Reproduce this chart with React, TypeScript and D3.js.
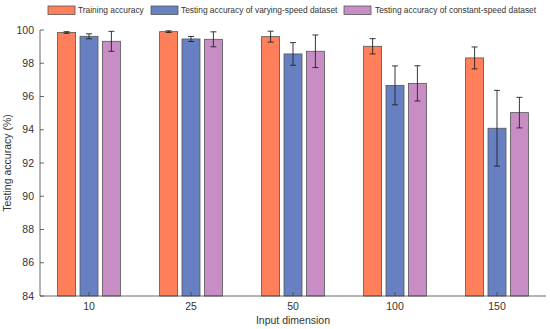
import React from "react";
import * as d3 from "d3";

const categories = ["10", "25", "50", "100", "150"];
const seriesNames = [
  "Training accuracy",
  "Testing accuracy of varying-speed dataset",
  "Testing accuracy of constant-speed dataset",
];
const trainingMean = [99.85, 99.9, 99.6, 99.02, 98.32];
const trainingErr = [0.05, 0.05, 0.33, 0.46, 0.66];
const varyingMean = [99.62, 99.46, 98.56, 96.67, 94.09];
const varyingErr = [0.15, 0.15, 0.68, 1.17, 2.28];
const constantMean = [99.32, 99.44, 98.72, 96.79, 95.03];
const constantErr = [0.6, 0.45, 0.98, 1.06, 0.92];
const yTicks = [84, 86, 88, 90, 92, 94, 96, 98, 100];
const colors = ["#FF7F5B", "#6680C2", "#C98DC6"];

const W = 550, H = 329;
const left = 40, right = 546, top = 30, bottom = 296;

export default function App() {
  const means = [trainingMean, varyingMean, constantMean];
  const errs = [trainingErr, varyingErr, constantErr];
  const x = d3.scaleBand().domain(categories).range([38, 548]).padding(0);
  const y = d3.scaleLinear().domain([84, 100]).range([bottom, top]);
  const barW = 18;
  const step = 22.4;
  const font = "Arial, 'Liberation Sans', sans-serif";

  const legendItems = [
    { box: 48, text: 78 },
    { box: 151, text: 181 },
    { box: 344, text: 375 },
  ];

  return (
    <svg width={W} height={H} style={{ position: "absolute", left: 0, top: 0, background: "#fff" }} fontFamily={font}>
      {categories.map((c, i) => {
        const cx = x(c)! + x.bandwidth() / 2;
        return means.map((m, s) => {
          const bx = cx + (s - 1) * step;
          const v = m[i];
          const e = errs[s][i];
          return (
            <g key={c + s}>
              <rect x={bx - barW / 2} y={y(v)} width={barW} height={bottom - y(v)} fill={colors[s]} stroke="#555" strokeWidth={0.8} />
              <line x1={bx} x2={bx} y1={y(v + e)} y2={y(v - e)} stroke="#222" strokeWidth={0.9} />
              <line x1={bx - 3} x2={bx + 3} y1={y(v + e)} y2={y(v + e)} stroke="#222" strokeWidth={0.9} />
              <line x1={bx - 3} x2={bx + 3} y1={y(v - e)} y2={y(v - e)} stroke="#222" strokeWidth={0.9} />
            </g>
          );
        });
      })}
      <line x1={left} x2={left} y1={top} y2={bottom} stroke="#444" strokeWidth={0.8} />
      <line x1={left} x2={right} y1={bottom} y2={bottom} stroke="#444" strokeWidth={0.8} />
      {yTicks.map((t) => (
        <g key={t}>
          <line x1={left} x2={left + 4} y1={y(t)} y2={y(t)} stroke="#444" strokeWidth={0.8} />
          <text x={left - 6} y={y(t)} dy="0.35em" textAnchor="end" fontSize={10.5} fill="#333">{t}</text>
        </g>
      ))}
      {categories.map((c) => {
        const cx = x(c)! + x.bandwidth() / 2;
        return (
          <g key={c}>
            <line x1={cx} x2={cx} y1={bottom} y2={bottom - 4} stroke="#444" strokeWidth={0.8} />
            <text x={cx} y={310} textAnchor="middle" fontSize={10.5} fill="#333">{c}</text>
          </g>
        );
      })}
      <text x={(left + right) / 2} y={324} textAnchor="middle" fontSize={10.5} fill="#333">Input dimension</text>
      <text transform={`translate(11, ${(top + bottom) / 2}) rotate(-90)`} textAnchor="middle" fontSize={10.5} fill="#333">Testing accuracy (%)</text>
      {legendItems.map((l, s) => (
        <g key={s}>
          <rect x={l.box} y={6} width={27} height={8.5} fill={colors[s]} stroke="#555" strokeWidth={0.8} />
          <text x={l.text} y={10.5} dy="0.35em" fontSize={8.4} fill="#333">{seriesNames[s]}</text>
        </g>
      ))}
    </svg>
  );
}
